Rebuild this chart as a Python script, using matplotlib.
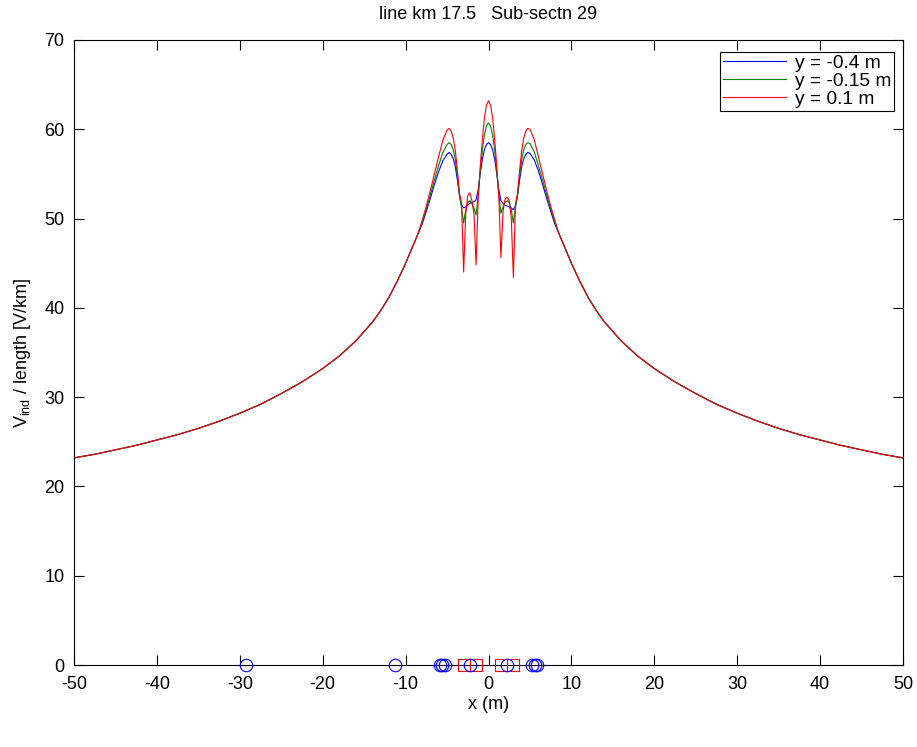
import matplotlib
matplotlib.use("Agg")
import matplotlib.pyplot as plt
import numpy as np

plt.rcParams['font.family'] = ['Liberation Sans', 'DejaVu Sans']
plt.rcParams['mathtext.default'] = 'regular'
plt.rcParams['axes.unicode_minus'] = False

# shared outer parts of the curves
x_left = [-50, -47.5, -45, -42.5, -40, -37.5, -35, -32.5, -30, -27.5, -25, -22.5,
          -20, -18, -16, -14, -13, -12, -11, -10, -9.5, -9, -8.5]
y_left = [23.2, 23.6, 24.1, 24.6, 25.2, 25.8, 26.5, 27.3, 28.2, 29.2, 30.4, 31.7,
          33.2, 34.6, 36.3, 38.4, 39.7, 41.2, 43.0, 45.0, 46.1, 47.2, 48.3]
x_right = [8.5, 9, 9.5, 10, 11, 12, 13, 14, 16, 18, 20, 22.5, 25, 27.5, 30,
           32.5, 35, 37.5, 40, 42.5, 45, 47.5, 50]
y_right = [48.3, 47.2, 46.1, 45.0, 43.0, 41.2, 39.7, 38.4, 36.3, 34.6, 33.2, 31.7,
           30.4, 29.2, 28.2, 27.3, 26.5, 25.8, 25.2, 24.6, 24.1, 23.6, 23.2]

# central region, per series
x_center = [-8, -7.5, -7, -6.5, -6, -5.5, -5, -4.75, -4.5, -4.25, -4, -3.75, -3.5,
            -3.25, -3, -2.75, -2.5, -2.25, -2, -1.75, -1.5, -1.25, -1, -0.75, -0.5,
            -0.25, 0, 0.25, 0.5, 0.75, 1, 1.25, 1.5, 1.75, 2, 2.25, 2.5, 2.75, 3,
            3.25, 3.5, 3.75, 4, 4.25, 4.5, 4.75, 5, 5.5, 6, 6.5, 7, 7.5, 8]
y_blue = [49.4, 50.8, 52.3, 53.9, 55.3, 56.5, 57.2, 57.4, 57.2, 56.7, 55.8, 54.3, 52.6,
          51.5, 51.2, 51.3, 51.5, 51.7, 51.8, 51.9, 52.1, 53.2, 55.0, 56.6, 57.7,
          58.3, 58.5, 58.3, 57.7, 56.6, 55.0, 53.2, 52.0, 51.7, 51.5, 51.4, 51.3, 51.2, 51.0,
          51.4, 52.6, 54.3, 55.8, 56.7, 57.2, 57.4, 57.3, 56.6, 55.4, 53.9, 52.3, 50.8, 49.4]
y_green = [49.6, 51.1, 52.7, 54.4, 56.0, 57.4, 58.3, 58.5, 58.3, 57.7, 56.6, 54.8, 52.6,
           51.2, 49.5, 51.0, 51.8, 52.0, 51.7, 51.2, 50.4, 52.6, 55.3, 57.6, 59.3,
           60.4, 60.7, 60.4, 59.3, 57.6, 55.3, 52.6, 50.6, 51.3, 51.8, 52.0, 51.8, 51.0, 49.5,
           51.2, 52.6, 54.8, 56.6, 57.7, 58.3, 58.5, 58.4, 57.5, 56.0, 54.4, 52.7, 51.1, 49.6]
y_red = [49.8, 51.4, 53.2, 55.1, 57.0, 58.8, 59.9, 60.1, 59.8, 59.0, 57.6, 55.4, 52.8,
         51.8, 44.0, 50.5, 52.6, 52.9, 52.0, 50.5, 44.8, 52.0, 55.8, 58.8, 61.2,
         62.7, 63.2, 62.7, 61.2, 58.8, 55.8, 52.3, 45.6, 50.8, 52.2, 52.4, 52.0, 50.0, 43.4,
         51.6, 52.8, 55.4, 57.6, 59.0, 59.8, 60.1, 60.0, 58.9, 57.0, 55.1, 53.2, 51.4, 49.8]

labels = ['y = -0.4 m', 'y = -0.15 m', 'y = 0.1 m']
colors = ['#0000ff', '#008000', '#ff0000']

# conductor positions on the x axis
circ_x = [-29.2, -11.3, -5.9, -5.6, -5.3, -2.2, 2.2, 5.3, 5.6, 5.9]
sq_x = [-2.9, -1.5, 1.5, 2.9]

fig = plt.figure(figsize=(9.17, 7.47), dpi=100)
ax = fig.add_axes([74/917, 1-665/747, (903-74)/917, (665-40)/747])

for yc, c, lab in zip([y_blue, y_green, y_red], colors, labels):
    xs = x_left + x_center + x_right
    ys = y_left + yc + y_right
    ax.plot(xs, ys, color=c, lw=0.8, label=lab)

ax.plot(sq_x, [0]*len(sq_x), ls='none', marker='s', mfc='none', mec='#ff0000',
        ms=8, mew=0.8, clip_on=False, zorder=5)
ax.plot(circ_x, [0]*len(circ_x), ls='none', marker='o', mfc='none', mec='#0000ff',
        ms=9, mew=0.8, clip_on=False, zorder=5)

ax.set_xlim(-50, 50)
ax.set_ylim(0, 70)
ax.set_xticks(np.arange(-50, 51, 10))
ax.set_yticks(np.arange(0, 71, 10))
ax.tick_params(direction='in', length=7, width=0.8, top=True, right=True,
               labelsize=13)
ax.tick_params(axis='x', pad=8)
ax.tick_params(axis='y', pad=7)
for s in ax.spines.values():
    s.set_linewidth(0.8)

ax.set_title('line km 17.5   Sub-sectn 29', fontsize=13, pad=15)
ax.set_xlabel('x (m)', fontsize=13, labelpad=2)
ax.set_ylabel(r'V$_{ind}$ / length [V/km]', fontsize=13, labelpad=8)

leg = ax.legend(loc='upper right', bbox_to_anchor=(0.989, 0.981), borderaxespad=0,
                fontsize=13.8, handlelength=3.3, handletextpad=0.45, labelspacing=0.02,
                borderpad=0.15, fancybox=False, edgecolor='black', framealpha=1)
leg.get_frame().set_linewidth(0.8)

fig.savefig('out.png', dpi=100)
